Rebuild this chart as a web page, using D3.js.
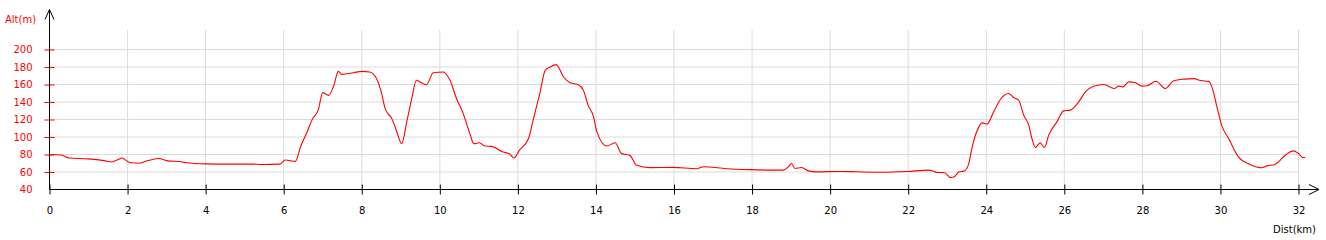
<!DOCTYPE html>
<html>
<head>
<meta charset="utf-8">
<script src="https://cdn.jsdelivr.net/npm/d3@7"></script>
<style>
  body { margin: 0; background: #fff; }
  svg { display: block; font-family: "DejaVu Sans", Verdana, sans-serif; }
</style>
</head>
<body>
<script>
const w = 1326;
const h = 240;

// profile samples
const dist = [0, 0.3, 0.5, 1.0, 1.4, 1.6, 1.75, 1.86, 2.0, 2.1, 2.3, 2.45, 2.8, 3.0, 3.4, 3.5, 4.0, 4.6, 5.2, 5.45, 5.9,
  6.04, 6.3, 6.43, 6.6, 6.72, 6.89, 7.0, 7.15, 7.28, 7.4, 7.49, 7.79, 8.0, 8.2, 8.38, 8.5, 8.6, 8.77, 8.9, 9.02,
  9.17, 9.28, 9.4, 9.53, 9.66, 9.83, 10.09, 10.26, 10.43, 10.6, 10.77, 10.87, 11.02, 11.15, 11.32, 11.62, 11.79, 11.9,
  12.04, 12.27, 12.4, 12.57, 12.7, 12.83, 12.98, 13.17, 13.34, 13.55, 13.68, 13.8, 13.94, 14.02, 14.28, 14.49, 14.66,
  14.87, 15.04, 15.38, 15.98, 16.58, 16.75, 17.35, 17.94, 18.8, 18.93, 19.01, 19.1, 19.27, 19.44, 19.66, 20.26, 20.69,
  21.29, 21.97, 22.53, 22.75, 22.92, 23.09, 23.18, 23.3, 23.43, 23.54, 23.64, 23.77, 23.9, 24.02, 24.19, 24.36, 24.57,
  24.7, 24.83, 24.96, 25.09, 25.17, 25.26, 25.38, 25.49, 25.6, 25.81, 25.98, 26.15, 26.37, 26.54, 26.75, 27.01, 27.28,
  27.39, 27.5, 27.65, 27.82, 27.99, 28.12, 28.35, 28.59, 28.8, 29.06, 29.32, 29.49, 29.7, 29.78, 29.91, 30.03, 30.21,
  30.46, 30.76, 31.06, 31.19, 31.4, 31.66, 31.87, 32.0, 32.11, 32.17];
const alt = [80, 79.5, 76, 75, 73, 71.5, 74, 76, 72, 70.5, 70, 72, 75.5, 73, 71.5, 70.5, 69.3, 69, 69, 68.6, 69,
  73.7, 72.2, 88.6, 105.7, 119, 131.6, 150.7, 147.6, 158.3, 175, 171.6, 173.5, 175, 174.3, 166.7, 151.4, 132.4, 121, 105.7, 92.4,
  121, 143.8, 164.8, 162, 159.8, 173.5, 174.3, 164.8, 143.8, 126.7, 103.8, 92.4, 93.5, 89.7, 89.3, 82.9, 80.6, 76,
  85, 98, 121, 151.4, 176.2, 180, 182.7, 168.6, 162, 159.8, 153.3, 136.2, 122.9, 106.5, 89.7, 93.5, 81,
  79, 67.6, 65, 65.3, 63.8, 66, 63.8, 62.7, 62.1, 65.9, 69.7, 64, 65.1, 61.3, 60.2, 60.6, 60.2,
  59.8, 60.6, 62.1, 59.4, 59.4, 53.7, 54.5, 60.2, 61, 67.8, 88.8, 107.8, 116.2, 114.7, 128.8, 142.9, 149.7,
  145.1, 142.1, 125, 113.5, 98.3, 88, 93.3, 88, 102.1, 117.3, 129.9, 130.7, 140.2, 151.6, 158.1, 160, 155.4,
  158.1, 157.3, 163, 161.9, 158.1, 158.5, 163.8, 155.4, 164.2, 166.1, 166.7, 164.5, 163.6, 157.3, 134.5, 113.5, 98.3,
  77.3, 68.6, 64.8, 67, 68.6, 79.2, 84.2, 81.1, 76.6, 76.6];

const xTicks = d3.range(0, 33, 2);
const yTicks = [40, 60, 80, 100, 120, 140, 160, 180, 200];

const data = dist.map((d, i) => ({ d: d, a: alt[i] }));

const x = d3.scaleLinear().domain([0, 32]).range([49.5, 1298.5]);
const y = d3.scaleLinear().domain([40, 200]).range([189.5, 49.5]);

const svg = d3.select('body').append('svg')
  .attr('width', w)
  .attr('height', h);

// grid
svg.append('g')
  .selectAll('line')
  .data(yTicks.filter((t) => t > 40))
  .enter().append('line')
  .attr('x1', x(0)).attr('x2', x(32))
  .attr('y1', (d) => y(d)).attr('y2', (d) => y(d))
  .attr('stroke', '#dcdcdc');

svg.append('g')
  .selectAll('line')
  .data(xTicks.filter((t) => t > 0))
  .enter().append('line')
  .attr('x1', (d) => x(d)).attr('x2', (d) => x(d))
  .attr('y1', 30).attr('y2', y(40))
  .attr('stroke', '#dcdcdc');

// axes
const yAxis = d3.axisLeft(y).tickValues(yTicks).tickSizeInner(5).tickSizeOuter(0).tickPadding(12);
const gy = svg.append('g').attr('transform', `translate(${x(0)},0)`).call(yAxis);
gy.select('.domain').remove();
gy.selectAll('.tick line').attr('stroke', '#ff0000').attr('x2', -5).attr('x1', 5)
  .style('display', (d) => d === 40 ? 'none' : null);
gy.selectAll('.tick text').attr('fill', '#ff0000').style('font-size', '10px')
  .style('font-family', '"DejaVu Sans", Verdana, sans-serif');

const xAxis = d3.axisBottom(x).tickValues(xTicks).tickSizeInner(5).tickSizeOuter(0).tickPadding(12);
const gx = svg.append('g').attr('transform', `translate(0,${y(40)})`).call(xAxis);
gx.select('.domain').remove();
gx.selectAll('.tick line').attr('stroke', '#000').attr('y1', -5).attr('y2', 5);
gx.selectAll('.tick text').attr('fill', '#000').style('font-size', '10px')
  .style('font-family', '"DejaVu Sans", Verdana, sans-serif');

// axis lines with arrows
svg.append('path')
  .attr('d', `M${x(0)},${y(40)}V9.5M45,19.5L${x(0)},9.5L54,19.5`)
  .attr('fill', 'none').attr('stroke', '#000');
svg.append('path')
  .attr('d', `M${x(0)},${y(40)}H1319M1309,184.5L1319,${y(40)}L1309,194.5`)
  .attr('fill', 'none').attr('stroke', '#000');

// profile line
const line = d3.line()
  .x((p) => x(p.d))
  .y((p) => y(p.a))
  .curve(d3.curveMonotoneX);

svg.append('path')
  .datum(data)
  .attr('d', line)
  .attr('fill', 'none')
  .attr('stroke', '#ff0000')
  .attr('stroke-width', 1.1);

// titles
svg.append('text')
  .attr('x', 5).attr('y', 23)
  .attr('fill', '#ff0000')
  .style('font-size', '10px')
  .text('Alt(m)');

svg.append('text')
  .attr('x', 1316).attr('y', 233)
  .attr('text-anchor', 'end')
  .attr('fill', '#000')
  .style('font-size', '10px')
  .text('Dist(km)');
</script>
</body>
</html>
